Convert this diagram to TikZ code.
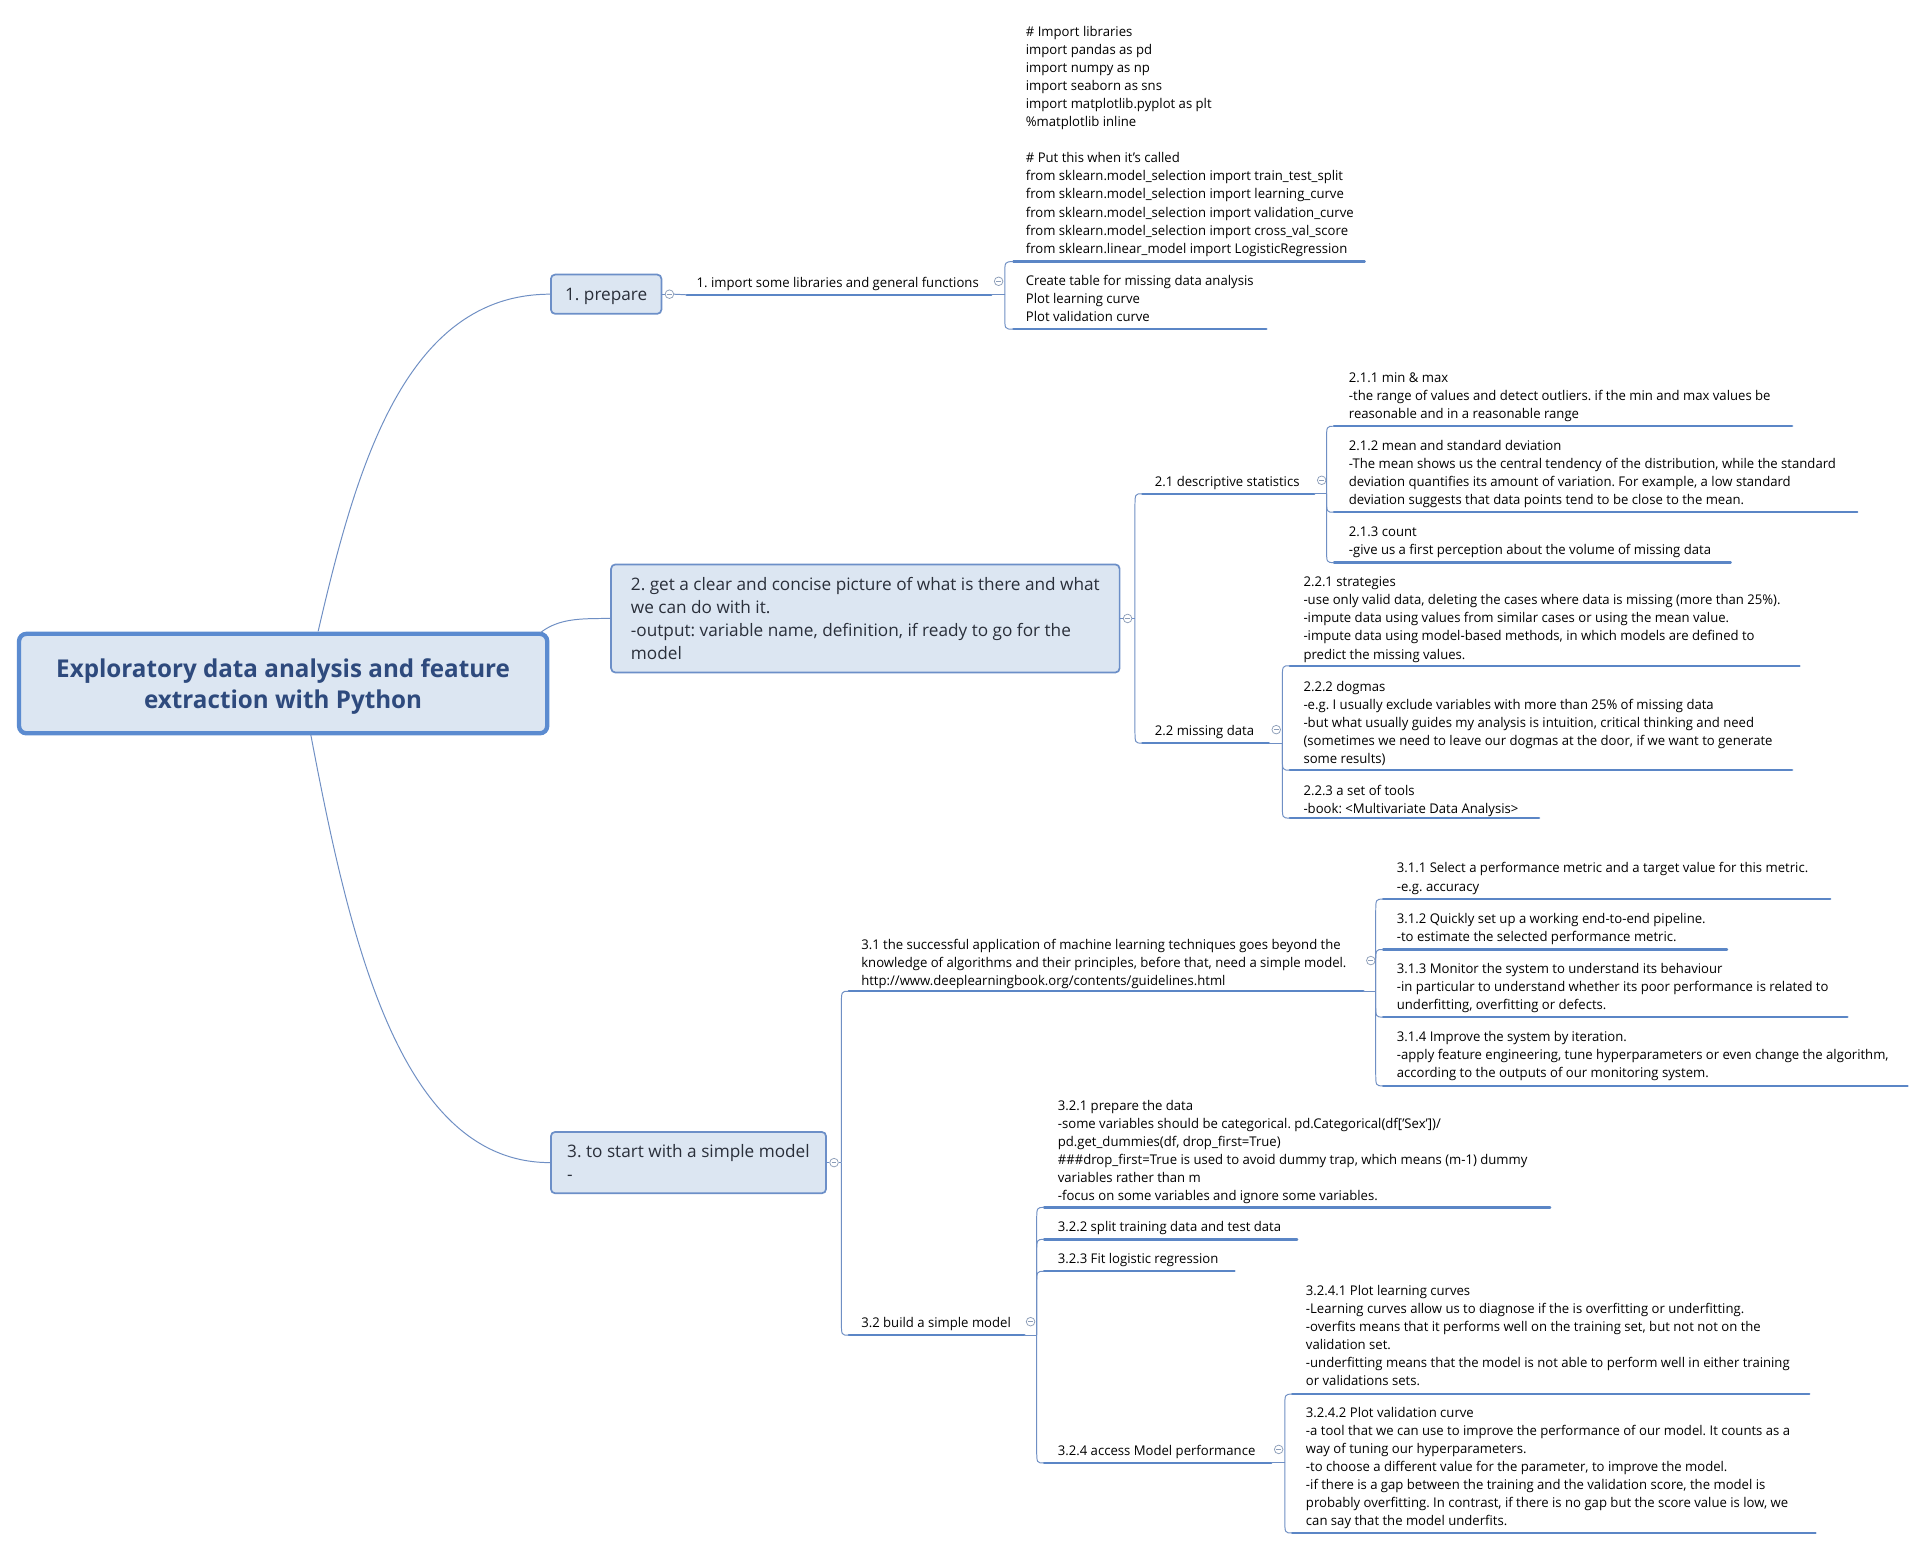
\documentclass[tikz,border=0pt]{standalone}
\usepackage{fontspec}
\setmainfont{Open Sans}[FakeStretch=0.98]
\newfontfamily\topicfont{Open Sans}[FakeStretch=1.0]
\newfontfamily\titlefont{Open Sans}[FakeStretch=0.985]
\usetikzlibrary{calc}
\definecolor{ulc}{HTML}{5B86C6}
\definecolor{cnc}{HTML}{6F8FC4}
\definecolor{boxfill}{HTML}{DCE6F2}
\definecolor{boxdraw}{HTML}{6C8FC8}
\definecolor{rootdraw}{HTML}{5B8BD0}
\definecolor{roottext}{HTML}{2E4A7D}
\definecolor{topictext}{HTML}{2A2F3A}
\definecolor{circc}{HTML}{8C9DB8}
\tikzset{
 subtext/.style={anchor=north west, inner sep=0pt, align=left, font=\fontsize{10.9}{14.7}\selectfont, text=black},
 uline/.style={draw=ulc, line width=1.9pt, line cap=round},
 conn/.style={draw=cnc, line width=0.8pt},
 topic/.style={draw=boxdraw, line width=1.4pt, fill=boxfill, rounded corners=3.5pt, align=left, font=\topicfont\fontsize{14}{18.7}\selectfont, text=topictext, inner sep=0pt},
 rootbox/.style={draw=rootdraw, line width=3.5pt, fill=boxfill, rounded corners=6pt, align=center, font=\titlefont\bfseries\fontsize{20}{26}\selectfont, text=roottext, inner sep=0pt},
 collapse/.style={circle, draw=circc, line width=0.6pt, fill=white, minimum size=7pt, inner sep=0pt, path picture={\draw[circc, line width=0.6pt] ([xshift=-2pt]path picture bounding box.center) -- ([xshift=2pt]path picture bounding box.center);}},
}
\newcommand\fr{\rule{0pt}{8.7pt}}
% name, x, yc, text, x1, x2, yline
\newcommand\subtopic[7]{%
  \node[subtext] (#1) at (#2,#3-4.2) {\fr #4};
  \coordinate (#1-a) at (#5,#7);
  \coordinate (#1-b) at (#6,#7);
  \draw[uline] (#1-a) -- (#1-b);
}
% bracket branch from junction #1 to child start #2
\newcommand\brk[2]{%
  \draw[conn] let \p1=(#1), \p2=(#2) in
    (#1) -- (\x1,{\y2+11pt*sign(\y1-\y2)}) .. controls (\x1,\y2) .. (#2);
}
\begin{document}
\frenchspacing
\begin{tikzpicture}[x=1pt,y=-1pt]
\useasboundingbox (0,0) rectangle (1568,1262);
\fill[white] (0,0) rectangle (1568,1262);

% ---------- root and main topics
\node[rootbox, minimum width=430pt, minimum height=81pt, text depth=0pt] (root) at (230.5,556.5) {Exploratory data analysis and feature\\extraction with Python};
\node[topic, minimum width=90pt, minimum height=32pt, text depth=0pt] (n1) at (493.5,239.5) {1. prepare};
\node[topic, minimum width=414pt, minimum height=88pt] (n2) at (704.5,503.5) {2. get a clear and concise picture of what is there and what\\we can do with it.\\-output: variable name, definition, if ready to go for the\\model};
\node[topic, minimum width=224pt, minimum height=50pt] (n3) at (560.5,946.5) {3. to start with a simple model\\-};

\coordinate (r1) at (259,514);
\coordinate (r2) at (440,515);
\coordinate (r3) at (253,598);
\draw[conn] (r1) .. controls (290,380) and (330,239.5) .. (n1.west);
\draw[conn] (r2) .. controls (455,503.5) and (472,503.5) .. (n2.west);
\draw[conn] (r3) .. controls (285,767) and (326,946.5) .. (n3.west);

% ---------- 1. prepare
\node[collapse] (c1) at (545,239.5) {};
\draw[conn] (n1.east) -- (c1.west);
\subtopic{imp}{567}{229}{1. import some libraries and general functions}{559}{807}{240}
\draw[conn] (c1.east) -- (imp-a);
\node[collapse] (cimp) at (813,229) {};
\coordinate (jimp) at (818,240);
\draw[conn] (imp-b) -- (jimp);
\subtopic{code}{835}{25}{\# Import libraries\\import pandas as pd\\import numpy as np\\import seaborn as sns\\import matplotlib.pyplot as plt\\\%matplotlib inline\\\mbox{}\\\# Put this when it's called\\from sklearn.model\_selection import train\_test\_split\\from sklearn.model\_selection import learning\_curve\\from sklearn.model\_selection import validation\_curve\\from sklearn.model\_selection import cross\_val\_score\\from sklearn.linear\_model import LogisticRegression}{825}{1111}{213}
\subtopic{create}{835}{228}{Create table for missing data analysis\\Plot learning curve\\Plot validation curve}{825}{1031}{268}
\brk{jimp}{code-a}
\brk{jimp}{create-a}

% ---------- 2.
\node[collapse] (c2) at (918,503.5) {};
\draw[conn] (n2.east) -- (c2.west);
\coordinate (j2) at (924,503.5);
\draw[conn] (c2.east) -- (j2);
\subtopic{s21}{940}{391}{2.1 descriptive statistics}{930}{1070}{402}
\subtopic{s22}{940}{594}{2.2 missing data}{930}{1033}{605}
\brk{j2}{s21-a}
\brk{j2}{s22-a}

\node[collapse] (c21) at (1076,391) {};
\coordinate (j21) at (1080,402);
\draw[conn] (s21-b) -- (j21);
\subtopic{s211}{1098}{307}{2.1.1 min \& max\\-the range of values and detect outliers. if the min and max values be\\reasonable and in a reasonable range}{1086}{1459}{347}
\subtopic{s212}{1098}{362}{2.1.2 mean and standard deviation\\-The mean shows us the central tendency of the distribution, while the standard\\deviation quantifies its amount of variation. For example, a low standard\\deviation suggests that data points tend to be close to the mean.}{1086}{1512}{417}
\subtopic{s213}{1098}{432}{2.1.3 count\\-give us a first perception about the volume of missing data}{1086}{1409}{458}
\brk{j21}{s211-a}
\brk{j21}{s212-a}
\brk{j21}{s213-a}

\node[collapse] (c22) at (1039,594) {};
\coordinate (j22) at (1044,605);
\draw[conn] (s22-b) -- (j22);
\subtopic{s221}{1061}{473}{2.2.1 strategies\\-use only valid data, deleting the cases where data is missing (more than 25\%).\\-impute data using values from similar cases or using the mean value.\\-impute data using model-based methods, in which models are defined to\\predict the missing values.}{1050}{1465}{542}
\subtopic{s222}{1061}{558}{2.2.2 dogmas\\-e.g. I usually exclude variables with more than 25\% of missing data\\-but what usually guides my analysis is intuition, critical thinking and need\\(sometimes we need to leave our dogmas at the door, if we want to generate\\some results)}{1050}{1459}{627}
\subtopic{s223}{1061}{643}{2.2.3 a set of tools\\-book: <Multivariate Data Analysis>}{1050}{1253}{666}
\brk{j22}{s221-a}
\brk{j22}{s222-a}
\brk{j22}{s223-a}

% ---------- 3.
\node[collapse] (c3) at (679,946.5) {};
\draw[conn] (n3.east) -- (c3.west);
\coordinate (j3) at (685,946.5);
\draw[conn] (c3.east) -- (j3);
\subtopic{s31}{701}{768}{3.1 the successful application of machine learning techniques goes beyond the\\knowledge of algorithms and their principles, before that, need a simple model.\\http://www.deeplearningbook.org/contents/guidelines.html}{691}{1110}{807}
\subtopic{s32}{701}{1076}{3.2 build a simple model}{691}{834}{1087}
\brk{j3}{s31-a}
\brk{j3}{s32-a}

\node[collapse] (c31) at (1116,782) {};
\coordinate (j31) at (1120,807);
\draw[conn] (s31-b) -- (j31);
\subtopic{s311}{1137}{706}{3.1.1 Select a performance metric and a target value for this metric.\\-e.g. accuracy}{1126}{1490}{732}
\subtopic{s312}{1137}{747}{3.1.2 Quickly set up a working end-to-end pipeline.\\-to estimate the selected performance metric.}{1126}{1406}{773}
\subtopic{s313}{1137}{788}{3.1.3 Monitor the system to understand its behaviour\\-in particular to understand whether its poor performance is related to\\underfitting, overfitting or defects.}{1126}{1504}{828}
\subtopic{s314}{1137}{843}{3.1.4 Improve the system by iteration.\\-apply feature engineering, tune hyperparameters or even change the algorithm,\\according to the outputs of our monitoring system.}{1126}{1553}{884}
\brk{j31}{s311-a}
\brk{j31}{s312-a}
\brk{j31}{s313-a}
\brk{j31}{s314-a}

\node[collapse] (c32) at (839,1076) {};
\coordinate (j32) at (844,1087);
\draw[conn] (s32-b) -- (j32);
\subtopic{s321}{861}{899}{3.2.1 prepare the data\\-some variables should be categorical. pd.Categorical(df['Sex'])/\\pd.get\_dummies(df, drop\_first=True)\\\#\#\#drop\_first=True is used to avoid dummy trap, which means (m-1) dummy\\variables rather than m\\-focus on some variables and ignore some variables.}{850}{1262}{983}
\subtopic{s322}{861}{998}{3.2.2 split training data and test data}{850}{1056}{1009}
\subtopic{s323}{861}{1024}{3.2.3 Fit logistic regression}{850}{1005}{1035}
\subtopic{s324}{861}{1180}{3.2.4 access Model performance}{850}{1035}{1191}
\brk{j32}{s321-a}
\brk{j32}{s322-a}
\brk{j32}{s323-a}
\brk{j32}{s324-a}

\node[collapse] (c324) at (1041,1180) {};
\coordinate (j324) at (1046,1191);
\draw[conn] (s324-b) -- (j324);
\subtopic{s3241}{1063}{1050}{3.2.4.1 Plot learning curves\\-Learning curves allow us to diagnose if the is overfitting or underfitting.\\-overfits means that it performs well on the training set, but not not on the\\validation set.\\-underfitting means that the model is not able to perform well in either training\\or validations sets.}{1052}{1473}{1135}
\subtopic{s3242}{1063}{1149}{3.2.4.2 Plot validation curve\\-a tool that we can use to improve the performance of our model. It counts as a\\way of tuning our hyperparameters.\\-to choose a different value for the parameter, to improve the model.\\-if there is a gap between the training and the validation score, the model is\\probably overfitting. In contrast, if there is no gap but the score value is low, we\\can say that the model underfits.}{1052}{1478}{1248}
\brk{j324}{s3241-a}
\brk{j324}{s3242-a}
\end{tikzpicture}
\end{document}
